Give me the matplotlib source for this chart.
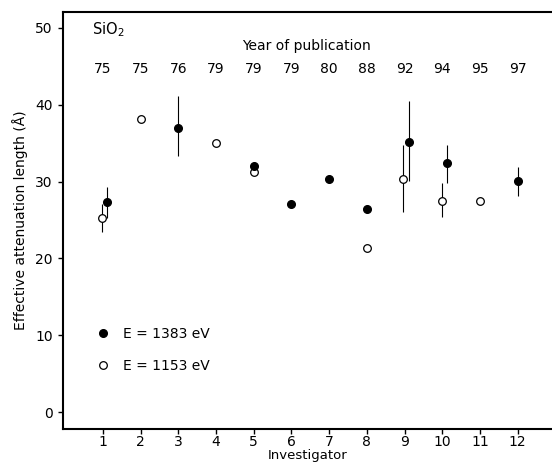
import matplotlib
matplotlib.use("Agg")
import matplotlib.pyplot as plt

# Investigator index and year of publication
investigators = list(range(1, 13))
years = ["75", "75", "76", "79", "79", "79", "80", "88", "92", "94", "95", "97"]

# E = 1383 eV (filled circles)
x_1383 = [1.1, 3, 5, 6, 7, 8, 9.12, 10.13, 12]
y_1383 = [27.3, 37.0, 32.0, 27.1, 30.3, 26.4, 35.2, 32.4, 30.1]
lo_1383 = [25.3, 33.3, 32.0, 27.1, 30.3, 26.4, 30.1, 29.8, 28.1]
hi_1383 = [29.3, 41.1, 32.0, 27.1, 30.3, 26.4, 40.5, 34.7, 31.9]

# E = 1153 eV (open circles)
x_1153 = [0.97, 2, 4, 5, 8, 8.97, 9.98, 11]
y_1153 = [25.3, 38.1, 35.0, 31.2, 21.4, 30.4, 27.5, 27.5]
lo_1153 = [23.4, 38.1, 35.0, 31.2, 21.4, 26.0, 25.4, 27.5]
hi_1153 = [27.1, 38.1, 35.0, 31.2, 21.4, 34.7, 29.8, 27.5]

plt.rcParams["font.family"] = ["DejaVu Sans"]

fig = plt.figure(figsize=(5.52, 4.62), dpi=100)
ax = fig.add_axes([63 / 552, 1 - 429 / 462, (552 - 63) / 552, (429 - 12) / 462])

ax.vlines(x_1383, lo_1383, hi_1383, color="black", lw=0.8)
ax.vlines(x_1153, lo_1153, hi_1153, color="black", lw=0.8)
ax.plot(x_1153, y_1153, "o", ms=5.5, mfc="white", mec="black", mew=0.9, ls="none",
        label="E = 1153 eV", zorder=3)
ax.plot(x_1383, y_1383, "o", ms=5.5, mfc="black", mec="black", ls="none",
        label="E = 1383 eV", zorder=3)

ax.set_xlim(-0.06, 12.91)
ax.set_ylim(-2.2, 52.07)
ax.set_xticks(investigators)
ax.set_yticks([0, 10, 20, 30, 40, 50])
ax.tick_params(axis="y", direction="out", length=3.5, width=1, labelsize=10, pad=4)
ax.tick_params(axis="x", direction="out", length=3.5, width=1, labelsize=10, pad=1)

for side in ["left", "bottom", "top"]:
    ax.spines[side].set_linewidth(1.5)
ax.spines["right"].set_visible(False)

ax.set_ylabel("Effective attenuation length (Å)", fontsize=10, labelpad=5)
ax.set_xlabel("Investigator", fontsize=9.5, labelpad=0)

# Year-of-publication header above the points
ax.text(6.4, 47.6, "Year of publication", ha="center", va="center", fontsize=10)
for xi, yr in zip(investigators, years):
    ax.text(xi, 44.6, yr, ha="center", va="center", fontsize=10)

ax.text(0.7, 49.8, "SiO$_2$", ha="left", va="center", fontsize=10.5)

handles, labels = ax.get_legend_handles_labels()
ax.legend(handles[::-1], labels[::-1], loc="upper left", bbox_to_anchor=(0.04, 0.275),
          frameon=False, fontsize=10, handletextpad=0.8, labelspacing=1.3,
          handlelength=1.2)

fig.savefig("out.png", dpi=100)
